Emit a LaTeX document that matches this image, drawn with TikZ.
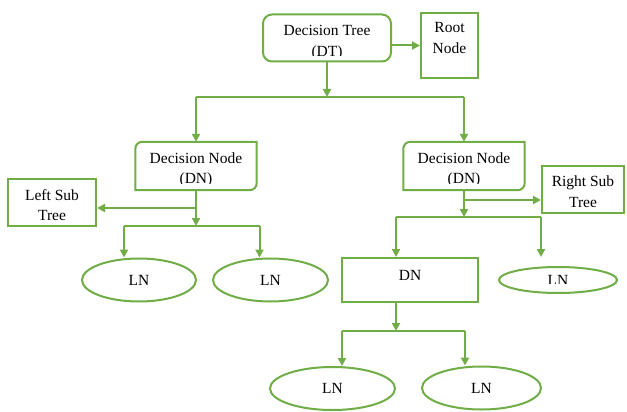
\documentclass[tikz,border=0pt]{standalone}
\usepackage{fontspec}
\setmainfont{Liberation Serif}
\usetikzlibrary{shapes,positioning,calc,arrows.meta}

\definecolor{leaf}{RGB}{112,173,71}

\tikzset{
  line/.style={draw=leaf, line width=2pt},
  arr/.style={line, -{Triangle[length=8pt,width=8pt]}},
  txt/.style={font=\fontsize{15.5}{20.5}\selectfont, align=center, inner sep=0pt},
  box/.style={line, inner sep=0pt},
  hollow/.style={inner sep=0pt},
  leafnode/.style={line, ellipse, inner sep=0pt, font=\fontsize{15.5}{20.5}\selectfont}
}

% box with the top left and bottom right corners rounded
\newcommand{\diagbox}[1]{%
  \draw [line] (#1.south west) -- ([yshift=-7pt]#1.north west)
    arc [start angle=180, end angle=90, radius=7pt] -- (#1.north east)
    -- ([yshift=7pt]#1.south east)
    arc [start angle=0, end angle=-90, radius=7pt] -- cycle;}

\begin{document}
\begin{tikzpicture}[x=1pt, y=-1pt]
    \useasboundingbox (0,0) rectangle (627,412);

    % top level
    \node [box, rounded corners=9pt, minimum width=128pt, minimum height=47pt] (dt) at (327,38) {};
    \begin{scope}
        \clip (dt.north west) rectangle ([yshift=6.5pt]dt.south east);
        \node [txt] (dttext) at ([yshift=-4.5pt]dt.center) {Decision Tree\\(DT)};
    \end{scope}
    \node [box, minimum width=57pt, minimum height=65pt] (root) at (449.5,45.5) {};
    \node [txt] (roottext) at ([yshift=7.5pt]root.center) {Root\\Node};
    \draw [arr] (dt.east |- root.west) -- (root.west);

    % decision nodes
    \node [hollow, minimum width=121pt, minimum height=48pt] (ldn) at (196,166) {};
    \diagbox{ldn}
    \begin{scope}
        \clip (ldn.north west) rectangle ([yshift=6.5pt]ldn.south east);
        \node [txt] (ldntext) at ([yshift=-4pt]ldn.center) {Decision Node\\(DN)};
    \end{scope}
    \node [hollow, minimum width=121pt, minimum height=48pt] (rdn) at (464,166) {};
    \diagbox{rdn}
    \begin{scope}
        \clip (rdn.north west) rectangle ([yshift=6.5pt]rdn.south east);
        \node [txt] (rdntext) at ([yshift=-4pt]rdn.center) {Decision Node\\(DN)};
    \end{scope}

    \coordinate (fork1) at (dt.south |- 0,97);
    \draw [arr] (dt.south) -- (fork1);
    \draw [line] (ldn.north |- fork1) -- (rdn.north |- fork1);
    \draw [arr] (ldn.north |- fork1) -- (ldn.north);
    \draw [arr] (rdn.north |- fork1) -- (rdn.north);

    % sub trees
    \node [box, minimum width=88pt, minimum height=47pt] (lst) at (52,202.5) {};
    \node [txt] (lsttext) at ([yshift=-2.5pt]lst.center) {Left Sub\\Tree};
    \node [box, minimum width=82pt, minimum height=47pt] (rst) at (583,189.5) {};
    \node [txt] (rsttext) at ([yshift=-2pt]rst.center) {Right Sub\\Tree};

    % leaves and the lower decision node
    \node [leafnode, minimum width=114pt, minimum height=43pt] (ln1) at (139,280) {LN};
    \node [leafnode, minimum width=115pt, minimum height=43pt] (ln2) at (270.5,280) {LN};
    \node [box, minimum width=136pt, minimum height=44pt] (dn) at (410,280) {};
    \node [txt] (dntext) at ([yshift=5pt]dn.center) {DN};
    \node [line, ellipse, inner sep=0pt, minimum width=118pt, minimum height=26pt] (ln3) at (558,280) {};
    \begin{scope}
        \clip (ln3.north west) rectangle ([yshift=-3.5pt]ln3.east);
        \node [txt] (ln3text) at (ln3.center) {LN};
    \end{scope}
    \node [leafnode, minimum width=125pt, minimum height=43pt] (ln4) at (332.5,388.5) {LN};
    \node [leafnode, minimum width=119pt, minimum height=43pt] (ln5) at (481.5,388) {LN};

    % left branch
    \coordinate (fork2) at (ldn.south |- 0,226);
    \draw [arr] (ldn.south) -- (fork2);
    \draw [arr] (ldn.south |- 0,208) -- (lst.east |- 0,208);
    \draw [line] ([xshift=-15pt]ln1.north |- fork2) -- ([xshift=-11pt]ln2.north |- fork2);
    \draw [arr] ([xshift=-15pt]ln1.north |- fork2) -- ([xshift=-15pt]ln1.north);
    \draw [arr] ([xshift=-11pt]ln2.north |- fork2) -- ([xshift=-11pt]ln2.north);

    % right branch
    \coordinate (fork3) at (rdn.south |- 0,217);
    \draw [arr] (rdn.south) -- (fork3);
    \draw [arr] (rdn.south |- 0,200) -- (rst.west |- 0,200);
    \draw [line] ([xshift=-14pt]dn.north |- fork3) -- (rst.west |- fork3);
    \draw [arr] ([xshift=-14pt]dn.north |- fork3) -- ([xshift=-14pt]dn.north);
    \draw [arr] (rst.west |- fork3) -- (rst.west |- dn.north);

    % bottom branch
    \coordinate (fork4) at ([xshift=-14pt]dn.south |- 0,331);
    \draw [arr] ([xshift=-14pt]dn.south) -- (fork4);
    \draw [line] ([xshift=9.5pt]ln4.north |- fork4) -- ([xshift=-16.5pt]ln5.north |- fork4);
    \draw [arr] ([xshift=9.5pt]ln4.north |- fork4) -- ([xshift=9.5pt]ln4.north);
    \draw [arr] ([xshift=-16.5pt]ln5.north |- fork4) -- ([xshift=-16.5pt]ln5.north);
\end{tikzpicture}
\end{document}
